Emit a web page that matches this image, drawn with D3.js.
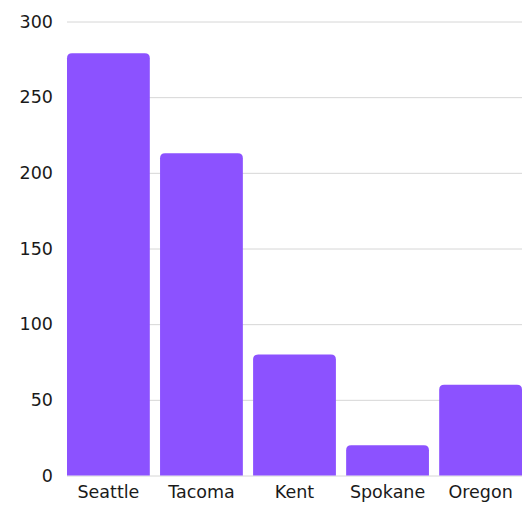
<!DOCTYPE html>
<html>
<head>
<meta charset="utf-8">
<script src="https://cdn.jsdelivr.net/npm/d3@7"></script>
<style>
  body { margin: 0; background: #fff; }
  text { font-family: "DejaVu Sans", sans-serif; }
</style>
</head>
<body>
<script>
const cities = ["Seattle", "Tacoma", "Kent", "Spokane", "Oregon"];
const values = [279, 213, 80, 20, 60];
const yTicks = [0, 50, 100, 150, 200, 250, 300];

const w = 530;
const h = 506;
const mLeft = 67, mRight = 522, mTop = 21.5, mBottom = 475.5;

const svg = d3.select("body")
  .append("svg")
  .attr("width", w)
  .attr("height", h);

const x = d3.scaleBand()
  .domain(cities)
  .range([mLeft, mRight])
  .paddingInner(0.11)
  .paddingOuter(0);

const y = d3.scaleLinear()
  .domain([0, 300])
  .range([mBottom, mTop]);

// gridlines + y labels
const yAxis = d3.axisLeft(y)
  .tickValues(yTicks)
  .tickSize(-(mRight - mLeft))
  .tickPadding(14);

const gy = svg.append("g")
  .attr("transform", "translate(" + mLeft + ",0)")
  .call(yAxis);
gy.select(".domain").remove();
gy.selectAll(".tick line").attr("stroke", "#d6d6d6");
gy.selectAll(".tick text")
  .style("font-size", "17.5px")
  .attr("fill", "#1a1a1a");

// bars with rounded top corners
const r = 5;
function barPath(d, i) {
  const x0 = x(cities[i]), x1 = x0 + x.bandwidth();
  const y0 = y(d), y1 = y(0);
  return "M" + x0 + "," + y1 +
    "L" + x0 + "," + (y0 + r) +
    "Q" + x0 + "," + y0 + " " + (x0 + r) + "," + y0 +
    "L" + (x1 - r) + "," + y0 +
    "Q" + x1 + "," + y0 + " " + x1 + "," + (y0 + r) +
    "L" + x1 + "," + y1 + "Z";
}

svg.append("g")
  .selectAll("path")
  .data(values)
  .enter()
  .append("path")
  .attr("d", barPath)
  .attr("fill", "#8c52ff");

// x labels
const xAxis = d3.axisBottom(x).tickSize(0).tickPadding(10);
const gx = svg.append("g")
  .attr("transform", "translate(0," + mBottom + ")")
  .call(xAxis);
gx.select(".domain").remove();
gx.selectAll(".tick text")
  .style("font-size", "17.5px")
  .attr("fill", "#1a1a1a");
</script>
</body>
</html>
